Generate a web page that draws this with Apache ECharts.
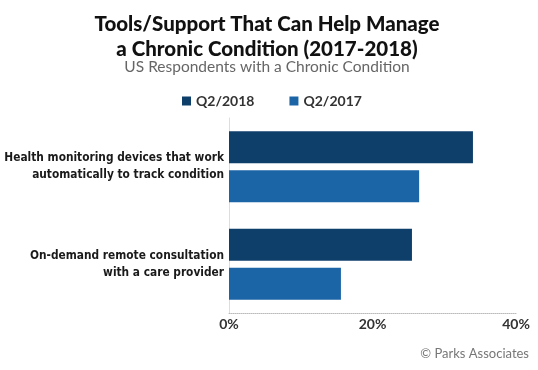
<!DOCTYPE html>
<html><head><meta charset="utf-8">
<script src="https://cdn.jsdelivr.net/npm/echarts@6/dist/echarts.min.js"></script>
<style>html,body{margin:0;padding:0;background:#fff}#c{width:538px;height:370px}</style>
</head><body><div id="c"></div>
<script>
var categories = ['Health monitoring devices that work\nautomatically to track condition', 'On-demand remote consultation\nwith a care provider'];
var seriesNames = ['Q2/2018', 'Q2/2017'];
var values2018 = [34, 25.5];
var values2017 = [26.5, 15.6];
var tickValues = [0, 20, 40];

var chart = echarts.init(document.getElementById('c'));
chart.setOption({
  animation: false,
  title: [{
    text: 'Tools/Support That Can Help Manage\na Chronic Condition (2017-2018)',
    subtext: 'US Respondents with a Chronic Condition',
    left: 262, top: 7, textAlign: 'center', itemGap: -3,
    textStyle: {fontFamily: 'Lato', fontWeight: 900, fontSize: 20.5, color: '#111', lineHeight: 25},
    subtextStyle: {fontFamily: 'Lato', fontSize: 15.5, color: '#666'}
  }, {
    text: '© Parks Associates', right: 4, top: 342,
    textStyle: {fontFamily: 'Lato', fontWeight: 'normal', fontSize: 13, color: '#777'}
  }],
  legend: {
    top: 89, left: 177, itemWidth: 9, itemHeight: 9, itemGap: 35, icon: 'rect',
    textStyle: {fontFamily: 'Lato', fontWeight: 'bold', fontSize: 14, color: '#333'},
    data: seriesNames
  },
  grid: {left: 229, right: 22, top: 118, bottom: 57, containLabel: false, outerBoundsMode: 'none'},
  xAxis: {
    type: 'value', min: 0, max: 40, interval: 20,
    axisLine: {show: true, lineStyle: {color: '#bbb', type: 'dotted'}},
    axisTick: {show: false}, splitLine: {show: false},
    axisLabel: {formatter: '{value}%', fontFamily: 'Lato', fontWeight: 'bold', fontSize: 14, color: '#333', margin: 4,
      customValues: tickValues}
  },
  yAxis: {
    type: 'category', inverse: true, data: categories,
    axisLine: {show: true, lineStyle: {color: '#ddd'}},
    axisTick: {show: false},
    axisLabel: {fontFamily: "'DejaVu Sans Condensed', 'Liberation Sans Narrow', 'Liberation Sans', sans-serif", fontWeight: 'bold', fontSize: 11.8, color: '#1a1a1a', lineHeight: 17, margin: 5, align: 'right'}
  },
  series: [
    {name: seriesNames[0], type: 'bar', data: values2018, barWidth: 32, barGap: '22%', barCategoryGap: '28%',
     itemStyle: {color: '#0e3f6b'}},
    {name: seriesNames[1], type: 'bar', data: values2017, barWidth: 32, barGap: '22%',
     itemStyle: {color: '#1b65a6'}}
  ]
});
</script></body></html>
